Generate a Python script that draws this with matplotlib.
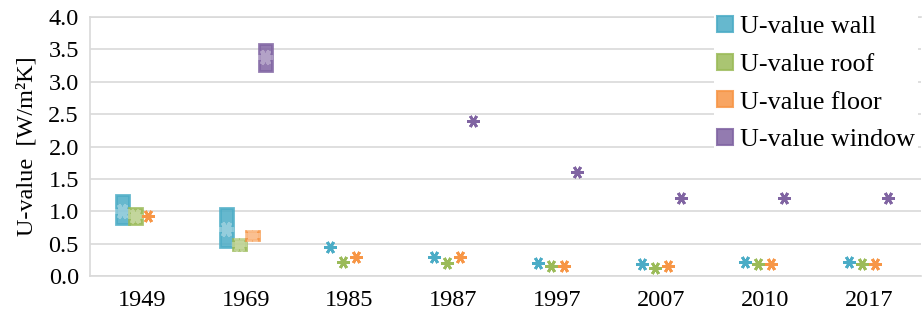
import matplotlib.pyplot as plt
import numpy as np
from matplotlib.lines import Line2D

plt.rcParams['font.family'] = ['Liberation Serif', 'DejaVu Serif']

years = ['1949', '1969', '1985', '1987', '1997', '2007', '2010', '2017']

# low / high of each range, and mean (x marker); nan = no data
wall_lo = [0.80, 0.45, 0.45, 0.30, 0.20, 0.18, 0.22, 0.22]
wall_hi = [1.25, 1.05, 0.45, 0.30, 0.20, 0.18, 0.22, 0.22]
wall_mean = [1.00, 0.72, 0.45, 0.30, 0.20, 0.18, 0.22, 0.22]

roof_lo = [0.80, 0.41, 0.22, 0.20, 0.15, 0.13, 0.18, 0.18]
roof_hi = [1.05, 0.57, 0.22, 0.20, 0.15, 0.13, 0.18, 0.18]
roof_mean = [0.92, 0.49, 0.22, 0.20, 0.15, 0.13, 0.18, 0.18]

floor_lo = [0.93, 0.56, 0.30, 0.30, 0.15, 0.15, 0.18, 0.18]
floor_hi = [0.93, 0.70, 0.30, 0.30, 0.15, 0.15, 0.18, 0.18]
floor_mean = [0.93, 0.63, 0.30, 0.30, 0.15, 0.15, 0.18, 0.18]

window_lo = [np.nan, 3.17, np.nan, 2.40, 1.60, 1.20, 1.20, 1.20]
window_hi = [np.nan, 3.58, np.nan, 2.40, 1.60, 1.20, 1.20, 1.20]
window_mean = [np.nan, 3.38, np.nan, 2.40, 1.60, 1.20, 1.20, 1.20]

series = [
    ('U-value wall', wall_lo, wall_hi, wall_mean, '#4BACC6'),
    ('U-value roof', roof_lo, roof_hi, roof_mean, '#9BBB59'),
    ('U-value floor', floor_lo, floor_hi, floor_mean, '#F79646'),
    ('U-value window', window_lo, window_hi, window_mean, '#8064A2'),
]

fig = plt.figure(figsize=(9.23, 3.21), dpi=100)
ax = fig.add_axes([0.0975, 0.14, 0.9, 0.807])

x = np.arange(len(years))
w = 0.125
star = (6, 2, 90)
handles = []
for i, (name, lo, hi, mean, col) in enumerate(series):
    lo = np.array(lo)
    hi = np.array(hi)
    mean = np.array(mean)
    xs = x + (i - 1.5) * w
    box = hi > lo
    ax.bar(xs[box], (hi - lo)[box], bottom=lo[box], width=w,
           color=col, alpha=0.85, edgecolor=col, linewidth=2, zorder=3)
    # faint mean marker inside boxes
    ax.plot(xs[box], mean[box], ls='none', marker=star, ms=11, mew=3,
            color='white', alpha=0.3, zorder=4)
    single = ~box & ~np.isnan(mean)
    ax.plot(xs[single], mean[single], ls='none', marker=star, ms=9, mew=2,
            color=col, zorder=4)
    handles.append(Line2D([], [], ls='none', marker='s', ms=11.5, mew=1.5,
                          markerfacecolor=col, markeredgecolor=col,
                          alpha=0.85, label=name))

ax.set_xlim(-0.5, len(years) - 0.5)
ax.set_ylim(0, 4.0)
ax.set_yticks(np.arange(0, 4.01, 0.5))
ax.set_yticklabels(['%.1f' % v for v in np.arange(0, 4.01, 0.5)])
ax.set_xticks(x)
ax.set_xticklabels(years)
ax.tick_params(length=0, labelsize=17.5, pad=8)
ax.tick_params(axis='x', pad=10)
ax.grid(axis='y', color='#d9d9d9', linewidth=1.2, zorder=0)
ax.set_axisbelow(True)
for s in ax.spines.values():
    s.set_color('#d9d9d9')
    s.set_linewidth(1.2)
ax.spines['right'].set_visible(False)
ax.set_ylabel('U-value  [W/m²K]', fontsize=17.5, labelpad=8)

leg = ax.legend(handles=handles, loc='upper right', bbox_to_anchor=(1.0, 1.03),
                fontsize=18.8, frameon=True, facecolor='white', edgecolor='none',
                framealpha=1, fancybox=False, handlelength=0.6,
                handletextpad=0.3, labelspacing=0.56, borderpad=0.1,
                borderaxespad=0.1)
leg.set_zorder(5)

plt.savefig('out.png', dpi=100)
